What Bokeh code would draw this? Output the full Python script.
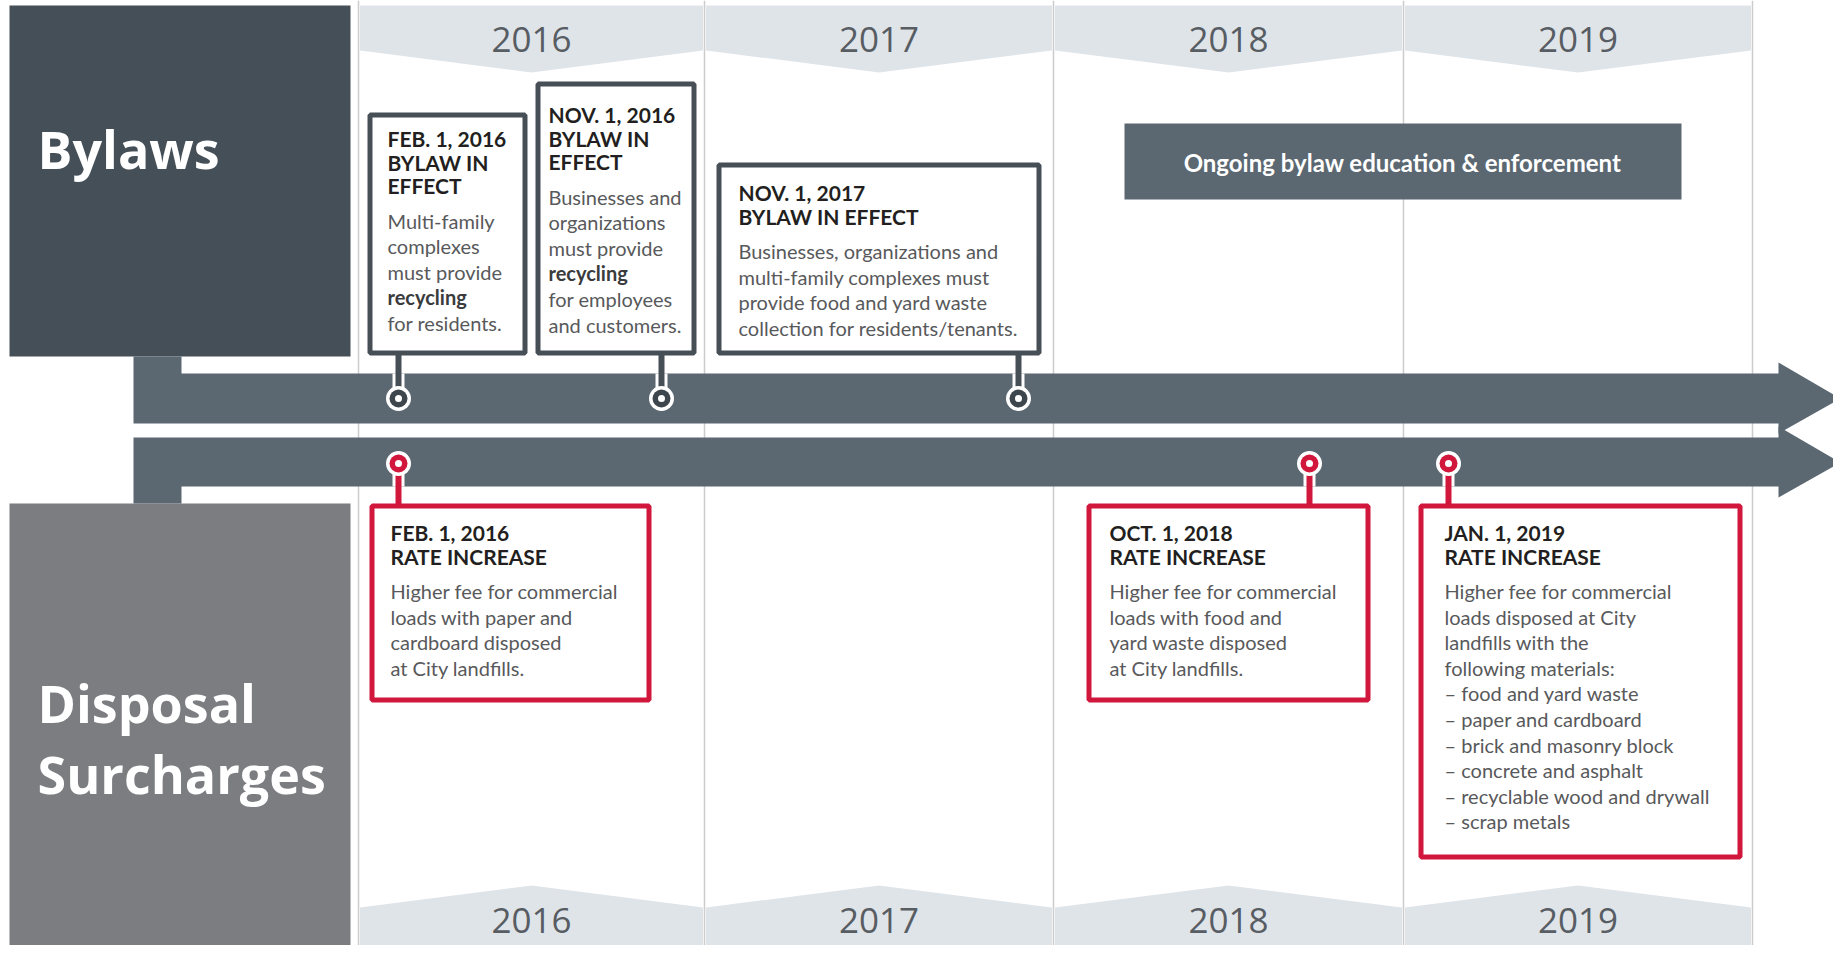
from bokeh.plotting import figure
from bokeh.models import Range1d, ColumnDataSource
from bokeh.core.properties import value
from bokeh.embed import file_html
from bokeh.resources import INLINE

# ---------------- data ----------------
years = ["2016", "2017", "2018", "2019"]
section_titles = ["Bylaws", "Disposal", "Surcharges"]
ongoing_label = "Ongoing bylaw education & enforcement"

bylaw_headers = [
    ["FEB. 1, 2016", "BYLAW IN", "EFFECT"],
    ["NOV. 1, 2016", "BYLAW IN", "EFFECT"],
    ["NOV. 1, 2017", "BYLAW IN EFFECT"],
]
bylaw_bodies = [
    ["Multi-family", "complexes", "must provide", "*recycling", "for residents."],
    ["Businesses and", "organizations", "must provide", "*recycling", "for employees", "and customers."],
    ["Businesses, organizations and", "multi-family complexes must",
     "provide food and yard waste", "collection for residents/tenants."],
]
rate_headers = [
    ["FEB. 1, 2016", "RATE INCREASE"],
    ["OCT. 1, 2018", "RATE INCREASE"],
    ["JAN. 1, 2019", "RATE INCREASE"],
]
rate_bodies = [
    ["Higher fee for commercial", "loads with paper and", "cardboard disposed", "at City landfills."],
    ["Higher fee for commercial", "loads with food and", "yard waste disposed", "at City landfills."],
    ["Higher fee for commercial", "loads disposed at City", "landfills with the", "following materials:",
     "\u2013 food and yard waste", "\u2013 paper and cardboard", "\u2013 brick and masonry block",
     "\u2013 concrete and asphalt", "\u2013 recyclable wood and drywall", "\u2013 scrap metals"],
]

# ---------------- layout (pixels of the 1841x953 canvas) ----------------
col_edges = [358, 704, 1053, 1403, 1752]
bylaw_boxes = [(367, 527, 112, 355), (535, 696, 81, 355), (716, 1041, 162, 355)]
bylaw_pins = [398, 661, 1018]
bylaw_text_x = [387, 548, 738]
bylaw_head_y = [138, 114, 192]
rate_boxes = [(369, 651, 503, 702), (1086, 1370, 503, 702), (1418, 1742, 503, 859)]
rate_pins = [398, 1309, 1448]
rate_text_x = [390, 1109, 1444]
rate_head_y = [532, 532, 532]
HEAD_LH = 23.5
BODY_GAP = 35
BODY_LH = 25.6

DARK_BOX = "#454f57"
BAR = "#5b6771"
GREY_BOX = "#7b7d80"
BANNER = "#dfe4e9"
RED = "#d1173c"
BOX_LINE = "#474f56"
HEAD_COL = "#231f20"
BODY_COL = "#58595b"
YEAR_COL = "#585d63"

W, H = 1833, 945
p = figure(width=W, height=H, x_range=Range1d(0, W), y_range=Range1d(H, 0),
           output_backend="svg", toolbar_location=None, min_border=0,
           x_axis_location=None, y_axis_location=None)
p.grid.visible = False
p.outline_line_color = None
p.background_fill_color = "white"
p.border_fill_color = "white"

# column separators
p.segment(x0=col_edges, x1=col_edges, y0=[0] * 5, y1=[953] * 5, line_color="#cccccc", line_width=1.5)

# year banners top and bottom
txs, tys, bxs, bys, cx = [], [], [], [], []
for i in range(len(years)):
    l, r = col_edges[i] + 1.5, col_edges[i + 1] - 1.5
    c = (col_edges[i] + col_edges[i + 1]) / 2
    cx.append(c)
    txs.append([l, r, r, c, l]); tys.append([5, 5, 50, 72, 50])
    bxs.append([l, r, r, c, l]); bys.append([953, 953, 907, 885, 907])
p.patches(txs, tys, fill_color=BANNER, line_color=None)
p.patches(bxs, bys, fill_color=BANNER, line_color=None)
p.text(x=cx, y=[39] * 4, text=years, text_font=value("Open Sans"), text_font_size="35px",
       text_color=YEAR_COL, text_align="center", text_baseline="middle")
p.text(x=cx, y=[920] * 4, text=years, text_font=value("Open Sans"), text_font_size="35px",
       text_color=YEAR_COL, text_align="center", text_baseline="middle")

# section boxes
p.quad(left=[9], right=[350], top=[5], bottom=[356], fill_color=DARK_BOX, line_color=None)
p.quad(left=[9], right=[350], top=[503], bottom=[953], fill_color=GREY_BOX, line_color=None)
p.text(x=[37], y=[148], text=[section_titles[0]], text_font=value("Open Sans"), text_font_size="52px",
       text_font_style="bold", text_color="white", text_baseline="alphabetic")
p.text(x=[37, 37], y=[702, 773], text=section_titles[1:], text_font=value("Open Sans"), text_font_size="52px",
       text_font_style="bold", text_color="white", text_baseline="alphabetic")

# timeline arrows
up_x = [133, 181, 181, 1778, 1778, 1840, 1778, 1778, 133]
up_y = [356, 356, 373, 373, 362, 398, 433, 423, 423]
lo_x = [133, 1778, 1778, 1840, 1778, 1778, 181, 181, 133]
lo_y = [437, 437, 426, 462, 497, 486, 486, 503, 503]
p.patches([up_x, lo_x], [up_y, lo_y], fill_color=BAR, line_color=None)

# ongoing box
p.quad(left=[1124], right=[1681], top=[123], bottom=[199], fill_color=BAR, line_color=None)
p.text(x=[1402], y=[162], text=[ongoing_label], text_font=value("Lato"), text_font_size="24px",
       text_font_style="bold", text_color="white", text_align="center", text_baseline="middle")

# pins
n_b, n_r = len(bylaw_pins), len(rate_pins)
p.segment(x0=bylaw_pins, x1=bylaw_pins, y0=[373] * n_b, y1=[398] * n_b, line_color="white", line_width=12)
p.segment(x0=bylaw_pins, x1=bylaw_pins, y0=[352] * n_b, y1=[398] * n_b, line_color=BOX_LINE, line_width=6)
p.scatter(x=bylaw_pins, y=[398] * n_b, size=25, fill_color="white", line_color=None)
p.scatter(x=bylaw_pins, y=[398] * n_b, size=18, fill_color="#3e464d", line_color=None)
p.scatter(x=bylaw_pins, y=[398] * n_b, size=7, fill_color="white", line_color=None)

p.segment(x0=rate_pins, x1=rate_pins, y0=[463] * n_r, y1=[486] * n_r, line_color="white", line_width=12)
p.segment(x0=rate_pins, x1=rate_pins, y0=[463] * n_r, y1=[506] * n_r, line_color=RED, line_width=6)
p.scatter(x=rate_pins, y=[463] * n_r, size=25, fill_color="white", line_color=None)
p.scatter(x=rate_pins, y=[463] * n_r, size=18, fill_color=RED, line_color=None)
p.scatter(x=rate_pins, y=[463] * n_r, size=7, fill_color="white", line_color=None)

# boxes
def boxes(rects, color):
    inset = 2.5
    p.quad(left=[r[0] + inset for r in rects], right=[r[1] - inset for r in rects],
           top=[r[2] + inset for r in rects], bottom=[r[3] - inset for r in rects],
           fill_color="white", line_color=color, line_width=5)

boxes(bylaw_boxes, BOX_LINE)
boxes(rate_boxes, RED)

# texts
head = dict(x=[], y=[], t=[])
body = dict(x=[], y=[], t=[])
bodyb = dict(x=[], y=[], t=[])

def add_texts(heads, bodies, xs, ys):
    for hl, bl, x0, y0 in zip(heads, bodies, xs, ys):
        y = y0
        for h in hl:
            head["x"].append(x0); head["y"].append(y); head["t"].append(h)
            y += HEAD_LH
        y = y - HEAD_LH + BODY_GAP
        for b in bl:
            tgt = bodyb if b.startswith("*") else body
            tgt["x"].append(x0); tgt["y"].append(y); tgt["t"].append(b.lstrip("*"))
            y += BODY_LH

add_texts(bylaw_headers, bylaw_bodies, bylaw_text_x, bylaw_head_y)
add_texts(rate_headers, rate_bodies, rate_text_x, rate_head_y)

p.text(x="x", y="y", text="t", source=ColumnDataSource(head), text_font=value("Lato"),
       text_font_size="21px", text_font_style="bold", text_color=HEAD_COL, text_baseline="middle")
p.text(x="x", y="y", text="t", source=ColumnDataSource(body), text_font=value("Lato"),
       text_font_size="20px", text_color=BODY_COL, text_baseline="middle")
p.text(x="x", y="y", text="t", source=ColumnDataSource(bodyb), text_font=value("Lato"),
       text_font_size="20px", text_font_style="bold", text_color="#3a3b3d", text_baseline="middle")

open("out.html", "w").write(file_html(p, INLINE))
